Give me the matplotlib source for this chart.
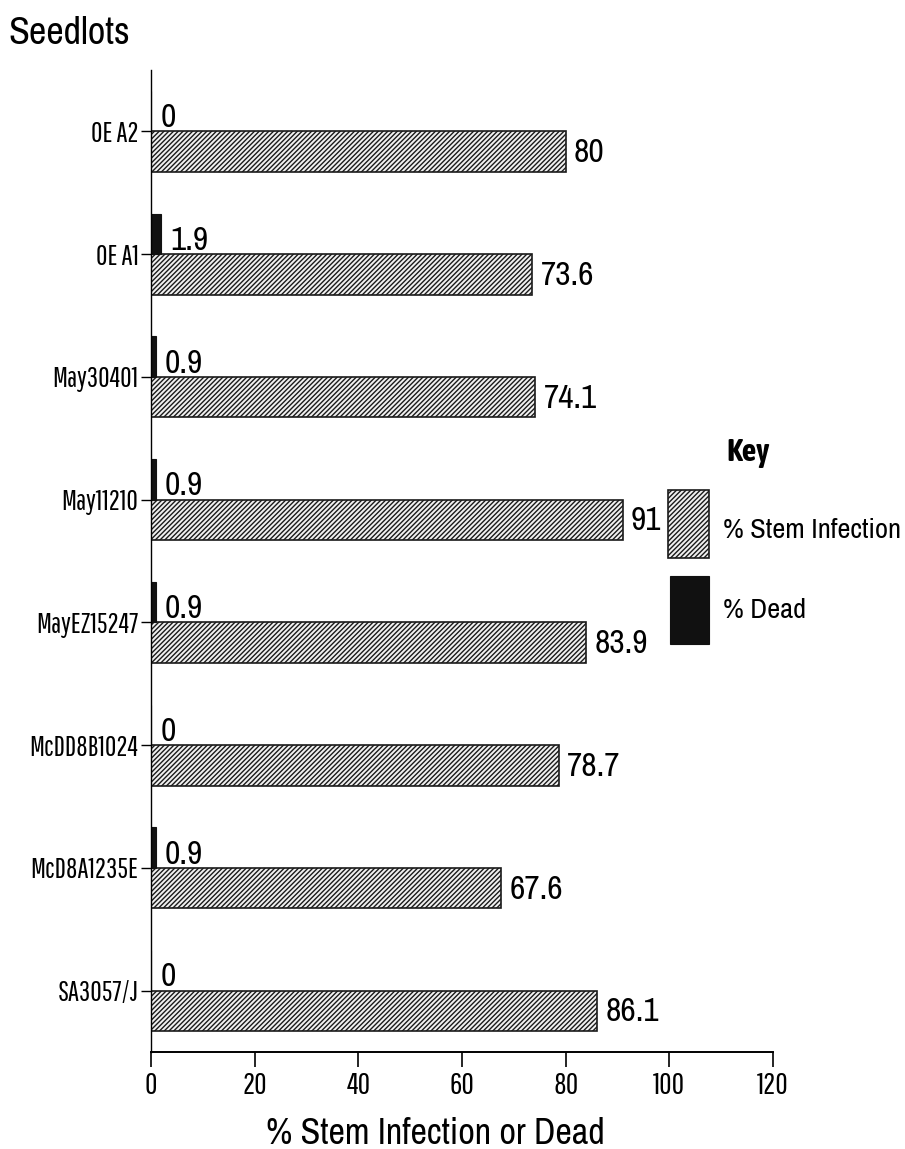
import matplotlib
matplotlib.use("Agg")
import matplotlib.pyplot as plt
from matplotlib.patches import Rectangle
import numpy as np

MAIN_FONT = ['Archivo Narrow', 'Liberation Sans Narrow', 'DejaVu Sans']
TICK_FONT = ['Pathway Gothic One', 'Archivo Narrow', 'Liberation Sans Narrow', 'DejaVu Sans']
BOLD_FONT = ['Asap Condensed', 'Archivo Narrow', 'DejaVu Sans']
plt.rcParams['font.family'] = MAIN_FONT
plt.rcParams['hatch.linewidth'] = 1.0
plt.rcParams['hatch.color'] = '#2a2a2a'

seedlots = ["OE A2", "OE A1", "May30401", "May11210", "MayEZ15247",
            "McDD8B1024", "McD8A1235E", "SA3057/J"]
stem_infection = [80, 73.6, 74.1, 91, 83.9, 78.7, 67.6, 86.1]
dead = [0, 1.9, 0.9, 0.9, 0.9, 0, 0.9, 0]
x_ticks = [0, 20, 40, 60, 80, 100, 120]

W, H = 905, 1149
fig = plt.figure(figsize=(W / 100, H / 100), dpi=100)


def fx(px):
    return px / W


def fy(py):
    return 1 - py / H


ax = fig.add_axes([fx(151), fy(1052), fx(773) - fx(151), fy(70) - fy(1052)])

pos = np.arange(len(seedlots))
h = 0.33
ax.barh(pos + h / 2, stem_infection, height=h, color='#f0f0f0',
        edgecolor='#1a1a1a', hatch='///////', linewidth=1.2)
ax.barh(pos - h / 2, dead, height=h, color='#111111', edgecolor='#111111',
        linewidth=0.8)

for p, v in zip(pos, stem_infection):
    ax.text(v + 1.6, p + 0.25, f"{v:g}", fontsize=24,
            va='baseline', ha='left')
for p, v in zip(pos, dead):
    ax.text(v + 1.8, p - 0.035, f"{v:g}", fontsize=24,
            va='baseline', ha='left')

ax.set_xlim(0, 120)
ax.set_ylim(7.5, -0.5)
ax.set_xticks(x_ticks)
ax.set_xticklabels([str(t) for t in x_ticks], fontsize=22, family=TICK_FONT)
ax.set_yticks(pos)
ax.set_yticklabels(seedlots, fontsize=20, family=TICK_FONT)
ax.tick_params(axis='x', direction='out', length=11, width=1.2, pad=3)
ax.tick_params(axis='y', direction='out', length=7, width=1.0, pad=2)
ax.spines['top'].set_visible(False)
ax.spines['right'].set_visible(False)
ax.spines['left'].set_linewidth(1.0)
ax.spines['bottom'].set_linewidth(1.4)
ax.set_xlabel("% Stem Infection or Dead", fontsize=26, labelpad=12)
ax.xaxis.label.set_x(0.457)

fig.text(fx(8), fy(33), "Seedlots", fontsize=27.5, ha='left', va='center')

# Key
fig.text(fx(748), fy(452), "Key", fontsize=23, ha='center', va='center',
         family=BOLD_FONT, fontweight='bold')
fig.add_artist(Rectangle((fx(668), fy(558)), fx(709) - fx(668), fy(490) - fy(558),
                         transform=fig.transFigure, facecolor='#f0f0f0',
                         edgecolor='#1a1a1a', hatch='///////', linewidth=1.2))
fig.add_artist(Rectangle((fx(670), fy(644)), fx(709) - fx(670), fy(576) - fy(644),
                         transform=fig.transFigure, facecolor='#111111',
                         edgecolor='#111111', linewidth=0.8))
fig.text(fx(723), fy(530), "% Stem Infection", fontsize=20.5, ha='left', va='center')
fig.text(fx(723), fy(610), "% Dead", fontsize=20.5, ha='left', va='center')

fig.savefig("out.png", dpi=100)
